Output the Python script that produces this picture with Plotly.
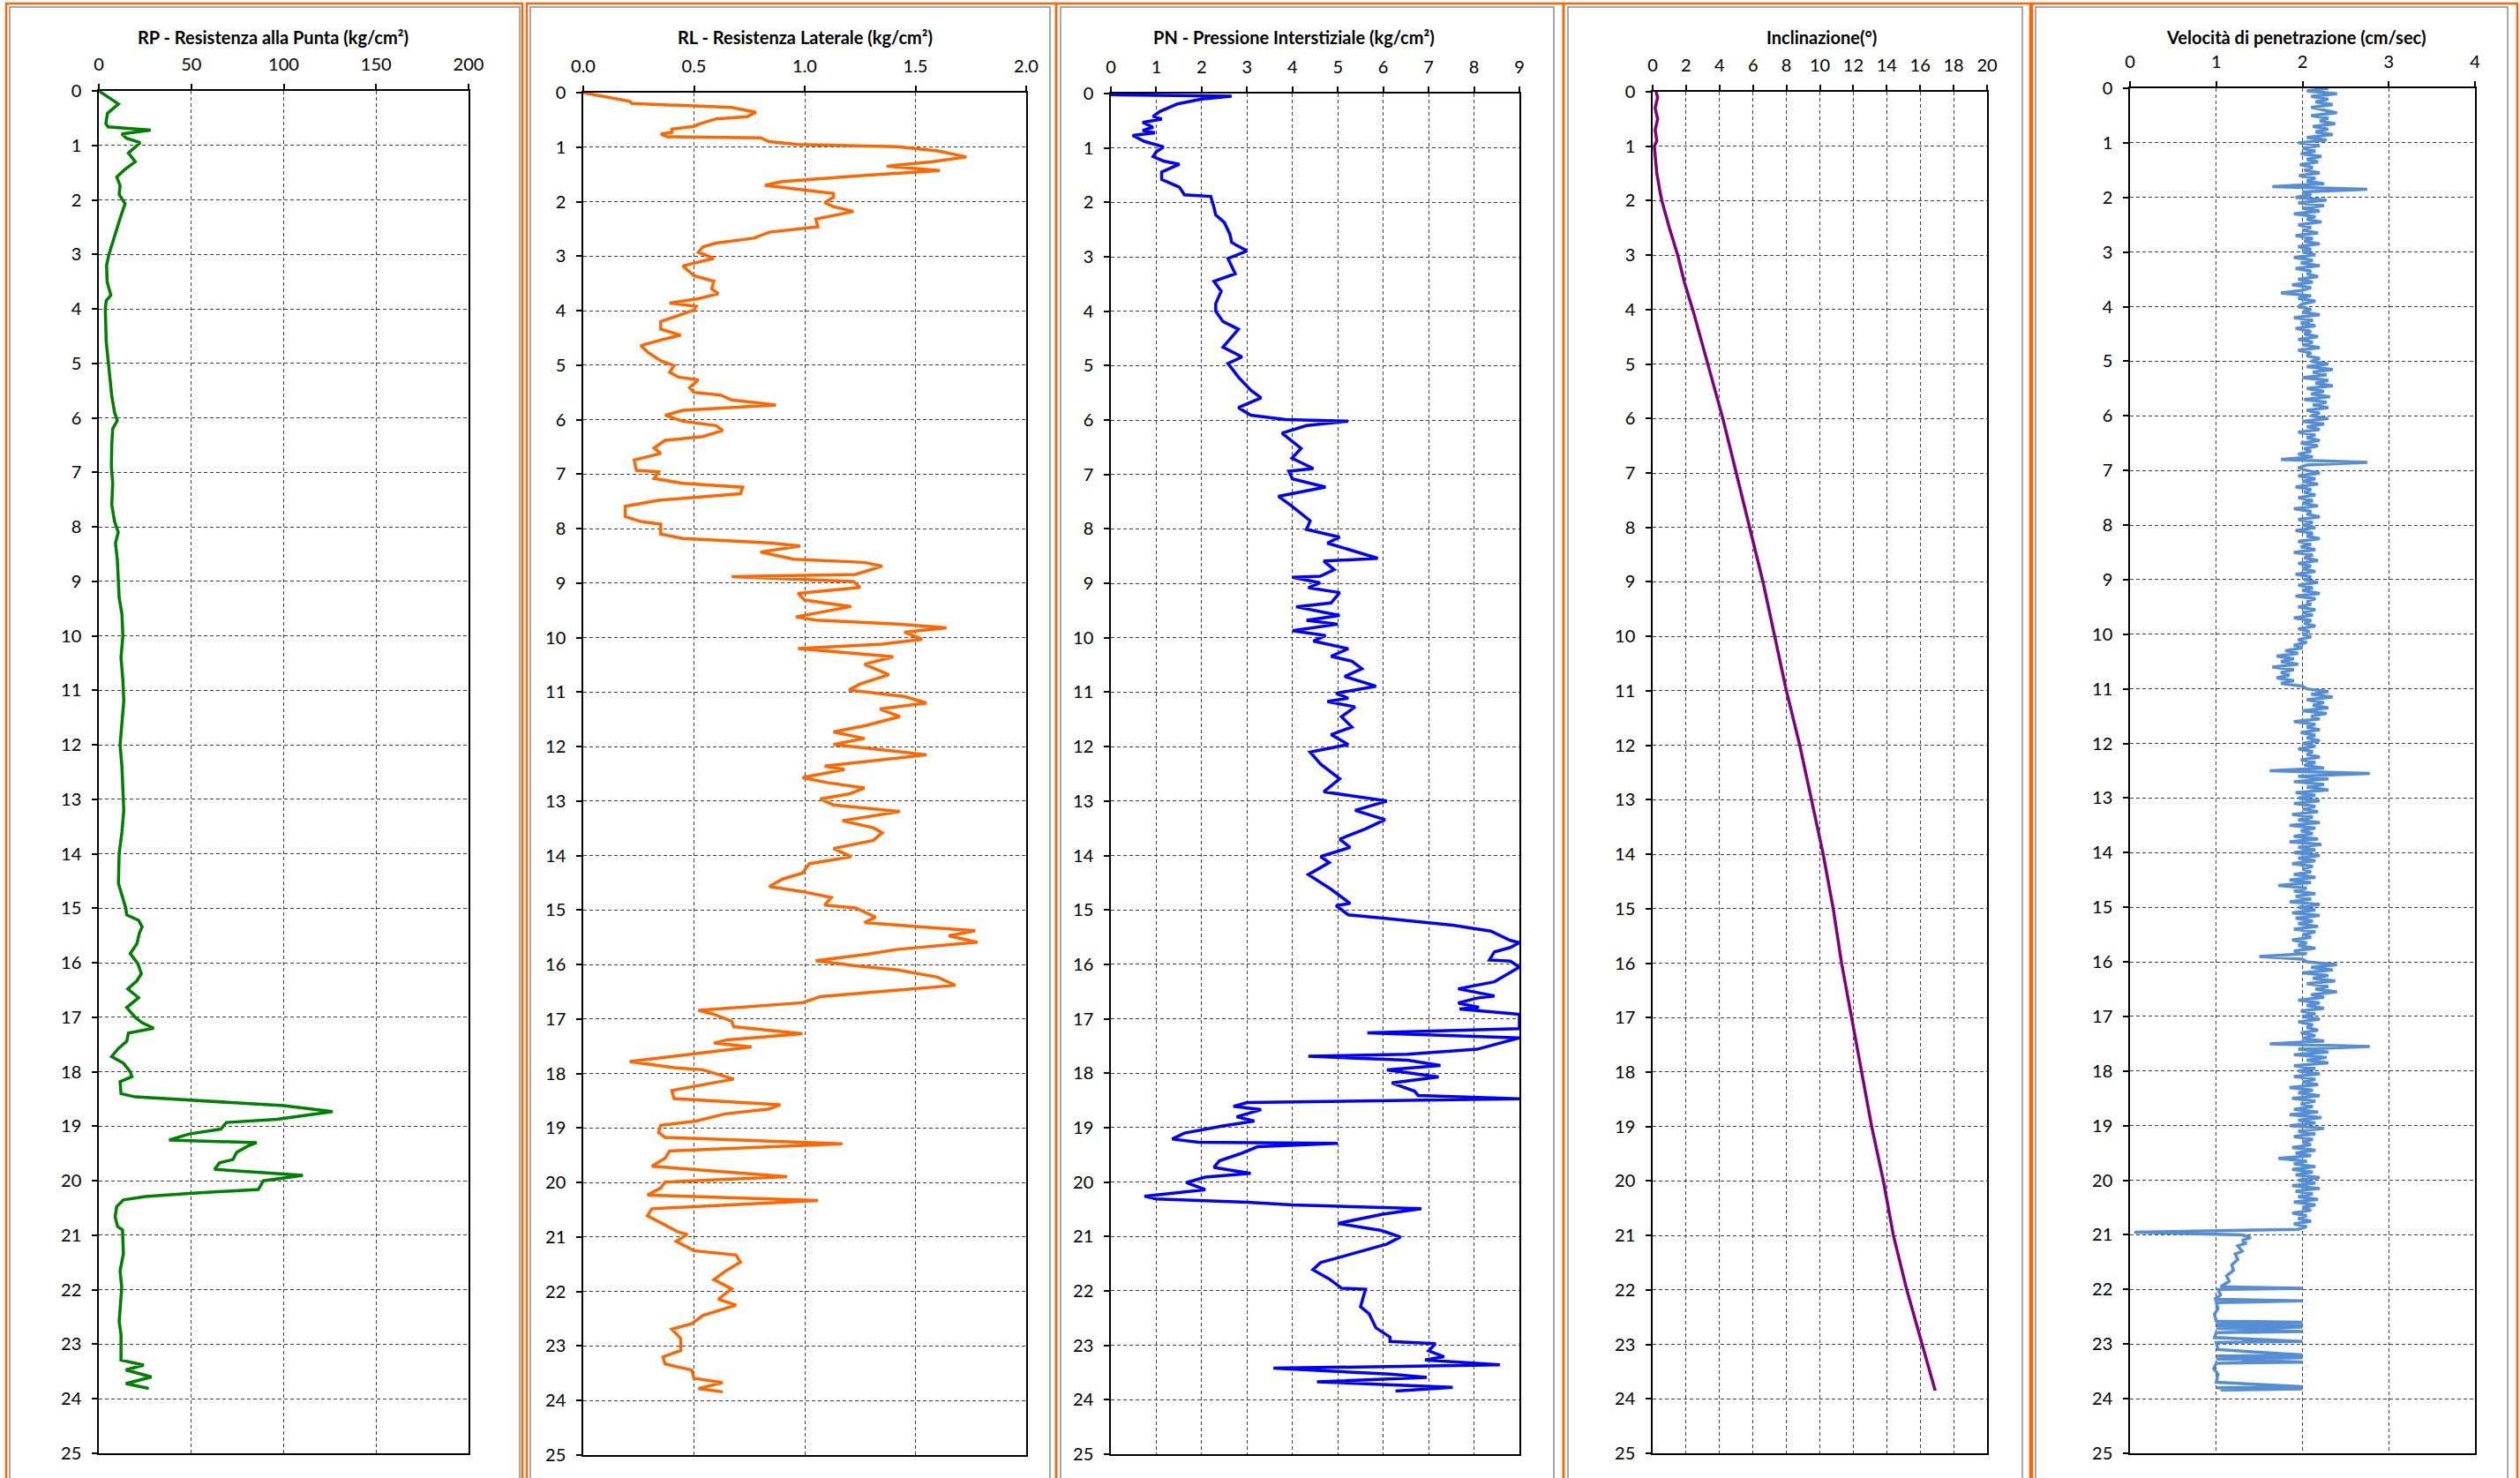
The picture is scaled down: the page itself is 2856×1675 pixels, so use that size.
import plotly.graph_objects as go

W, H = 2856, 1675

# ---------------- DATA ----------------
# RP - Resistenza alla Punta (kg/cm2)
rp_depth = [0, 0.24, 0.41, 0.6, 0.66, 0.72, 0.79, 0.87, 0.95, 1.14, 1.30, 1.44, 1.58, 1.74, 1.9, 2.07, 2.34,
            2.6, 2.8, 3.0, 3.2, 3.5, 3.75, 3.85, 4.0, 4.3, 4.6, 5.0, 5.3, 5.6, 5.9, 6.05, 6.2, 6.5, 6.9, 7.2,
            7.6, 7.9, 8.1, 8.3, 8.6, 9.0, 9.3, 9.6, 10.0, 10.4, 10.8, 11.2, 11.6, 12.0, 12.4, 12.8, 13.2, 13.6,
            14.0, 14.54, 15.0, 15.12, 15.22, 15.34, 15.46, 15.65, 15.83, 16.02, 16.2, 16.33, 16.48, 16.64,
            16.82, 17.0, 17.1, 17.2, 17.29, 17.44, 17.57, 17.72, 17.84, 18.0, 18.09, 18.18, 18.4, 18.46,
            18.52, 18.62, 18.73, 18.87, 18.93, 19.05, 19.14, 19.25, 19.3, 19.36, 19.48, 19.61, 19.67, 19.79,
            19.86, 19.9, 20.0, 20.16, 20.23, 20.29, 20.35, 20.47, 20.66, 20.84, 20.9, 21.34, 21.65, 21.96,
            22.58, 22.82, 23.29, 23.38, 23.47, 23.6, 23.72, 23.81]
rp_val = [0, 10.6, 4.7, 3.8, 5, 28, 12.4, 15, 22.4, 16, 19.7, 14.2, 9.7, 11.5, 11, 14.2, 11.5,
          9, 7, 5.5, 4.2, 4.5, 6.5, 4, 3.5, 3.8, 4, 5.2, 6, 7, 8.5, 10, 7.5, 7, 6.8, 7.5,
          7, 8.5, 10.5, 9, 10, 10.5, 11, 12.5, 13, 12, 13, 13.5, 12.5, 11.5, 12.5, 13, 13.5, 12.5,
          11, 10.6, 14.6, 15.1, 21.5, 23.4, 21.9, 20.6, 17, 21.2, 23, 20.6, 15.7, 21.5,
          15.1, 19.7, 23.4, 29.7, 16, 15.1, 10.6, 6.9, 13.3, 17, 17.9, 11.5, 12, 19.7,
          50, 100, 126.5, 96.4, 69, 66, 49, 38, 85.4, 80.8, 74.5, 72.6, 65.3, 62.6,
          92.7, 110.4, 89, 86.3, 49, 25.2, 13.3, 9.7, 8.8, 10.2, 12.8, 13.3, 11.5, 12.4,
          11, 12, 12, 24.3, 14.6, 28.5, 14.6, 27]

# RL - Resistenza Laterale (kg/cm2)
rl_depth = [0, 0.07, 0.16, 0.2, 0.27, 0.36, 0.44, 0.48, 0.58, 0.62, 0.67, 0.73, 0.76, 0.81, 0.83, 0.9, 0.95,
            0.99, 1.07, 1.18, 1.27, 1.35, 1.43, 1.53, 1.63, 1.7, 1.78, 1.85, 1.92, 2.02, 2.09, 2.18, 2.32,
            2.46, 2.56, 2.67, 2.76, 2.83, 2.93, 3.04, 3.18, 3.36, 3.46, 3.6, 3.69, 3.78, 3.86, 3.92, 3.99,
            4.11, 4.2, 4.34, 4.45, 4.54, 4.64, 4.76, 4.92, 5.01, 5.13, 5.22, 5.27, 5.41, 5.5, 5.55, 5.64,
            5.73, 5.83, 5.92, 6.03, 6.11, 6.2, 6.31, 6.38, 6.52, 6.62, 6.74, 6.93, 6.96, 7.08, 7.17, 7.24,
            7.36, 7.48, 7.59, 7.78, 7.87, 7.92, 8.1, 8.18, 8.26, 8.32, 8.43, 8.56, 8.62, 8.69, 8.84, 8.88,
            8.97, 9.08, 9.19, 9.31, 9.43, 9.54, 9.62, 9.68, 9.75, 9.82, 9.9, 10.03, 10.12, 10.2, 10.35,
            10.49, 10.68, 10.85, 10.96, 11.08, 11.2, 11.31, 11.45, 11.61, 11.73, 11.85, 11.96, 12.15,
            12.36, 12.42, 12.57, 12.66, 12.76, 12.87, 12.96, 13.07, 13.19, 13.36, 13.49, 13.58, 13.72,
            13.87, 14.02, 14.15, 14.32, 14.43, 14.57, 14.66, 14.77, 14.91, 14.96, 15.13, 15.23, 15.3,
            15.38, 15.47, 15.59, 15.72, 15.81, 15.93, 16.02, 16.1, 16.23, 16.38, 16.47, 16.59, 16.7,
            16.84, 16.91, 17.04, 17.14, 17.27, 17.38, 17.44, 17.51, 17.66, 17.78, 17.89, 17.93, 18.1,
            18.31, 18.46, 18.57, 18.65, 18.74, 18.87, 18.95, 19.08, 19.17, 19.29, 19.42, 19.55, 19.7,
            19.89, 19.99, 20.1, 20.23, 20.33, 20.48, 20.61, 20.78, 20.91, 20.95, 21.08, 21.25, 21.33,
            21.46, 21.63, 21.78, 21.95, 22.14, 22.25, 22.44, 22.59, 22.69, 22.86, 23.08, 23.2, 23.33,
            23.44, 23.59, 23.67, 23.78, 23.84]
rl_val = [0, 0.09, 0.21, 0.22, 0.67, 0.78, 0.74, 0.6, 0.52, 0.5, 0.4, 0.4, 0.35, 0.38, 0.80, 0.84, 0.97,
          1.42, 1.6, 1.73, 1.57, 1.37, 1.61, 1.23, 0.9, 0.82, 1.0, 1.13, 1.13, 1.09, 1.13, 1.22, 1.05,
          1.06, 0.84, 0.77, 0.6, 0.54, 0.52, 0.59, 0.45, 0.5, 0.59, 0.58, 0.61, 0.52, 0.39, 0.51, 0.5,
          0.42, 0.35, 0.35, 0.44, 0.35, 0.26, 0.29, 0.35, 0.41, 0.39, 0.43, 0.52, 0.48, 0.5, 0.62, 0.67,
          0.87, 0.45, 0.37, 0.45, 0.6, 0.63, 0.54, 0.37, 0.32, 0.35, 0.23, 0.24, 0.34, 0.32, 0.45, 0.72,
          0.71, 0.34, 0.19, 0.19, 0.26, 0.35, 0.35, 0.45, 0.84, 0.98, 0.8, 0.95, 1.27, 1.35, 1.23, 0.67,
          1.22, 1.25, 0.97, 1.0, 1.21, 1.07, 0.96, 1.05, 1.42, 1.64, 1.45, 1.53, 1.35, 0.97, 1.4,
          1.27, 1.38, 1.25, 1.2, 1.45, 1.55, 1.34, 1.43, 1.28, 1.13, 1.27, 1.13, 1.55,
          1.09, 1.18, 0.99, 1.1, 1.27, 1.2, 1.07, 1.13, 1.43, 1.17, 1.31, 1.35, 1.31,
          1.13, 1.21, 1.02, 0.99, 0.9, 0.84, 0.99, 1.12, 1.09, 1.23, 1.32, 1.27, 1.5,
          1.77, 1.65, 1.78, 1.42, 1.28, 1.05, 1.23, 1.42, 1.6, 1.68, 1.42, 1.07, 0.99,
          0.52, 0.59, 0.67, 0.68, 0.99, 0.65, 0.59, 0.76, 0.44, 0.21, 0.41, 0.54, 0.68,
          0.4, 0.41, 0.89, 0.84, 0.64, 0.51, 0.35, 0.34, 0.37, 1.17, 0.39, 0.37, 0.31,
          0.92, 0.37, 0.35, 0.29, 1.06, 0.31, 0.29, 0.37, 0.43, 0.47, 0.42, 0.5, 0.69,
          0.71, 0.64, 0.59, 0.67, 0.61, 0.69, 0.54, 0.49, 0.4, 0.44, 0.44, 0.36, 0.37,
          0.49, 0.5, 0.63, 0.52, 0.63]

# PN - Pressione Interstiziale (kg/cm2)
pn_depth = [0.0, 0.02, 0.05, 0.1, 0.19, 0.33, 0.42, 0.47, 0.53, 0.62, 0.68, 0.72, 0.77, 0.88, 0.98, 1.07,
            1.16, 1.24, 1.3, 1.44, 1.58, 1.72, 1.86, 1.89, 2.09, 2.23, 2.37, 2.58, 2.73, 2.79, 2.89, 3.03,
            3.31, 3.45, 3.63, 3.86, 4.0, 4.19, 4.33, 4.66, 4.84, 4.96, 5.21, 5.45, 5.59, 5.77, 5.91, 5.99,
            6.02, 6.1, 6.24, 6.52, 6.7, 6.89, 6.94, 7.08, 7.23, 7.4, 7.59, 7.85, 8.01, 8.15, 8.26, 8.38,
            8.47, 8.54, 8.59, 8.75, 8.87, 8.89, 8.99, 9.08, 9.17, 9.36, 9.43, 9.59, 9.68, 9.75, 9.87, 9.96,
            10.06, 10.2, 10.34, 10.43, 10.57, 10.71, 10.89, 11.02, 11.11, 11.17, 11.27, 11.45, 11.64, 11.78,
            11.96, 12.1, 12.32, 12.59, 12.83, 13.0, 13.17, 13.34, 13.51, 13.7, 13.85, 14.02, 14.13, 14.35,
            14.62, 14.88, 14.92, 15.09, 15.15, 15.23, 15.28, 15.39, 15.56, 15.6, 15.69, 15.77, 15.92, 15.94,
            16.05, 16.32, 16.45, 16.58, 16.62, 16.71, 16.79, 16.82, 16.88, 16.92, 17.18, 17.26, 17.35,
            17.56, 17.65, 17.69, 17.76, 17.86, 17.94, 18.07, 18.18, 18.33, 18.41, 18.47, 18.54, 18.61,
            18.67, 18.8, 18.88, 18.97, 19.1, 19.21, 19.27, 19.29, 19.35, 19.48, 19.61, 19.73, 19.78,
            19.84, 19.91, 20.01, 20.14, 20.26, 20.31, 20.37, 20.42, 20.49, 20.59, 20.76, 20.89, 21.01,
            21.14, 21.25, 21.4, 21.48, 21.61, 21.78, 21.95, 21.97, 22.29, 22.42, 22.68, 22.85, 22.93,
            22.97, 23.1, 23.21, 23.27, 23.36, 23.42, 23.53, 23.59, 23.67, 23.77, 23.84]
pn_val = [0.0, 0.0, 2.66, 2.0, 1.47, 1.08, 0.93, 1.12, 0.7, 0.93, 0.7, 0.97, 0.48, 0.74, 1.16, 1.0,
          0.93, 1.16, 1.51, 1.12, 1.12, 1.51, 1.62, 2.2, 2.27, 2.31, 2.5, 2.62, 2.66, 2.77, 3.0, 2.58,
          2.74, 2.27, 2.43, 2.31, 2.31, 2.47, 2.81, 2.47, 2.89, 2.58, 2.81, 3.08, 3.31, 2.81, 3.08, 3.85,
          5.23, 4.31, 3.77, 4.19, 3.99, 4.46, 3.92, 4.0, 4.73, 3.69, 4.0, 4.39, 4.31, 5.04, 4.77, 5.23,
          5.58, 5.88, 4.69, 4.92, 4.61, 4.0, 4.61, 4.35, 5.04, 4.85, 4.08, 5.04, 4.31, 5.0, 4.0, 4.73,
          4.46, 5.23, 4.85, 5.31, 5.53, 5.15, 5.84, 4.96, 5.23, 4.77, 5.38, 5.08, 5.31, 4.85,
          5.23, 4.39, 4.62, 5.04, 4.69, 6.08, 5.38, 6.04, 5.61, 5.04, 5.27, 4.62, 4.81, 4.35,
          4.85, 5.27, 4.96, 5.23, 5.99, 6.99, 7.53, 8.37, 8.8, 9.0, 8.8, 8.45, 8.34, 8.8,
          9.0, 8.45, 7.65, 8.45, 8.07, 7.65, 8.11, 7.68, 8.45, 9.0, 9.0, 5.65, 9.0,
          8.07, 6.54, 4.35, 6.54, 7.26, 6.08, 7.22, 6.19, 6.69, 6.77, 9.0, 3.0, 2.7,
          3.31, 2.77, 3.16, 2.47, 1.62, 1.35, 1.93, 5.0, 3.23, 2.85, 2.39, 2.27, 2.62,
          3.08, 2.08, 1.66, 2.08, 0.74, 1.0, 3.0, 4.0, 6.84, 5.99, 5.0, 5.96, 6.38,
          6.08, 5.61, 5.0, 4.62, 4.45, 4.81, 5.08, 5.61, 5.5, 5.69, 5.84, 6.15, 6.15,
          7.15, 7.0, 7.34, 6.92, 8.57, 3.58, 6.15, 6.96, 4.54, 7.53, 6.27]

# Inclinazione (deg)
inc_depth = [0, 0.1, 0.3, 0.5, 0.7, 0.9, 1.0, 1.5, 1.85, 2.0, 2.5, 3.0, 3.5, 4, 5, 6, 7, 8, 9, 10, 11,
             12, 13, 14, 15, 16, 17, 18, 19, 20, 21, 22, 23, 23.85]
inc_val = [0.2, 0.3, 0.15, 0.3, 0.15, 0.25, 0.1, 0.25, 0.45, 0.55, 1.0, 1.5, 1.9, 2.4, 3.3, 4.2, 5.0, 5.8,
           6.6, 7.3, 8.0, 8.8, 9.5, 10.2, 10.8, 11.3, 11.9, 12.5, 13.1, 13.8, 14.4, 15.2, 16.1, 16.9]

# Velocita di penetrazione (cm/sec): readings every 0.05 m from 0 to 20.95 m
vel_step = 0.05
vel_main = [
    2.3, 2.05, 2.4, 2.1, 2.3, 2.15, 2.35, 2.1, 2.25, 2.4, 2.1, 2.3, 2.2, 2.38, 2.12, 2.3, 2.15, 2.35, 2.05, 2.28,
    1.95, 2.2, 2.0, 2.15, 1.98, 2.22, 2.05, 2.18, 1.97, 2.12, 2.02, 2.2, 1.96, 2.15, 2.05, 2.25, 1.65, 2.75, 2.0, 2.1,
    1.92, 2.28, 1.95, 2.25, 2.0, 2.2, 1.9, 2.15, 2.05, 2.22, 1.95, 2.1, 2.0, 2.18, 1.92, 2.12, 2.02, 2.2, 1.95, 2.1,
    2.0, 2.15, 1.9, 2.12, 1.98, 2.2, 1.92, 2.1, 2.05, 2.18, 1.95, 2.12, 1.88, 2.1, 2.0, 1.75, 2.1, 1.95, 2.15, 2.0,
    1.95, 2.1, 2.0, 2.2, 1.9, 2.12, 1.98, 2.15, 1.92, 2.1, 2.02, 2.18, 1.95, 2.12, 2.0, 2.2, 1.95, 2.1, 2.05, 2.2,
    2.1, 2.3, 2.05, 2.35, 2.12, 2.28, 2.0, 2.3, 2.15, 2.35, 2.05, 2.25, 2.1, 2.32, 2.02, 2.28, 2.12, 2.3, 2.05, 2.2,
    2.1, 2.3, 2.0, 2.25, 2.05, 2.2, 1.95, 2.15, 2.05, 2.2, 1.98, 2.18, 2.02, 2.1, 1.95, 2.12, 1.75, 2.75, 2.05, 1.95,
    2.05, 2.2, 1.95, 2.15, 2.0, 2.18, 1.92, 2.1, 2.02, 2.15, 1.95, 2.12, 2.0, 2.18, 1.9, 2.1, 2.05, 2.2, 1.95, 2.12,
    2.0, 2.15, 1.92, 2.12, 2.05, 2.2, 1.95, 2.1, 1.98, 2.15, 1.9, 2.12, 2.02, 2.18, 1.95, 2.1, 2.0, 2.15, 1.92, 2.1,
    2.02, 2.18, 1.95, 2.12, 2.0, 2.2, 1.92, 2.15, 2.05, 2.1, 1.95, 2.15, 2.0, 2.12, 1.9, 2.1, 2.02, 2.15, 1.95, 2.08,
    2.0, 2.1, 1.95, 2.05, 1.9, 2.0, 1.8, 1.95, 1.7, 1.9, 1.75, 1.95, 1.65, 1.9, 1.75, 1.85, 1.7, 1.9, 1.75, 2.0,
    2.05, 2.3, 2.1, 2.35, 2.05, 2.25, 2.12, 2.3, 2.0, 2.28, 2.1, 2.2, 1.9, 2.15, 2.05, 2.2, 1.98, 2.15, 2.05, 2.2,
    2.0, 2.15, 1.95, 2.12, 2.05, 2.2, 1.98, 2.15, 2.02, 2.25, 1.62, 2.78, 1.95, 2.3, 1.9, 2.25, 2.05, 2.3, 1.92, 2.15,
    1.95, 2.2, 1.9, 2.15, 2.0, 2.18, 1.88, 2.12, 1.95, 2.2, 1.85, 2.15, 1.98, 2.12, 1.9, 2.18, 1.85, 2.22, 1.95, 2.15,
    1.9, 2.2, 1.95, 2.15, 1.88, 2.12, 2.0, 2.1, 1.9, 2.15, 1.85, 2.1, 1.72, 2.05, 1.9, 2.15, 1.92, 2.1, 1.85, 2.2,
    1.95, 2.15, 1.88, 2.2, 1.92, 2.12, 1.95, 2.18, 1.9, 2.15, 2.0, 2.1, 1.88, 2.05, 1.95, 2.15, 1.9, 2.05, 1.5, 2.0,
    2.05, 2.4, 2.1, 2.35, 2.0, 2.3, 2.12, 2.38, 2.05, 2.3, 2.15, 2.4, 2.1, 2.25, 1.95, 2.2, 2.05, 2.25, 1.98, 2.15,
    2.0, 2.2, 1.95, 2.12, 2.05, 2.18, 1.98, 2.15, 2.0, 2.25, 1.62, 2.78, 1.95, 2.3, 1.9, 2.28, 2.05, 2.3, 1.9, 2.15,
    1.95, 2.2, 1.9, 2.15, 2.0, 2.18, 1.85, 2.12, 1.95, 2.2, 1.88, 2.15, 1.98, 2.12, 1.9, 2.18, 1.85, 2.22, 1.95, 2.15,
    1.85, 2.25, 1.95, 2.15, 1.9, 2.12, 2.0, 2.1, 1.88, 2.15, 1.92, 2.1, 1.72, 2.05, 1.9, 2.15, 1.88, 2.12, 1.92, 2.2,
    1.95, 2.15, 1.88, 2.2, 1.92, 2.12, 1.95, 2.18, 1.9, 2.15, 2.0, 2.1, 1.88, 2.05, 1.95, 2.1, 1.9, 2.05, 1.95, 0.05,
]
vel_tail_depth = [21.0, 21.05, 21.1, 21.15, 21.2, 21.3, 21.35, 21.45, 21.55, 21.65, 21.75, 21.85, 21.95, 21.98,
                  22.0, 22.1, 22.18, 22.21, 22.24, 22.35, 22.45, 22.58, 22.6, 22.62, 22.64, 22.66, 22.69, 22.71,
                  22.77, 22.79, 22.88, 22.95, 22.97, 23.1, 23.2, 23.22, 23.25, 23.27, 23.33, 23.35, 23.45, 23.55,
                  23.7, 23.78, 23.8, 23.82, 23.84]
vel_tail_val = [1.3, 1.4, 1.3, 1.35, 1.25, 1.3, 1.22, 1.25, 1.18, 1.2, 1.12, 1.15, 1.05, 2.0,
                1.02, 1.05, 0.98, 2.0, 1.0, 1.02, 0.98, 1.0, 2.0, 1.0, 2.0, 1.0, 2.0, 1.0,
                2.0, 1.0, 0.98, 2.0, 1.0, 1.02, 2.0, 1.0, 2.0, 1.0, 2.0, 1.0, 0.97, 1.02,
                1.0, 2.0, 1.0, 2.0, 1.05]

vel_depth = [round(i * vel_step, 2) for i in range(len(vel_main))] + vel_tail_depth
vel_val = vel_main + vel_tail_val

titles = ["RP - Resistenza alla Punta (kg/cm²)", "RL - Resistenza Laterale (kg/cm²)",
          "PN - Pressione Interstiziale (kg/cm²)", "Inclinazione(°)", "Velocità di penetrazione (cm/sec)"]

# ---------------- LAYOUT ----------------
FONT = "Lato"
# plot areas in pixels: x0, x1, ytop, ybottom
areas = [(112, 531, 103, 1647), (661, 1163, 105, 1649), (1259, 1722, 106, 1648),
         (1873, 2252, 104, 1647), (2414, 2805, 100, 1647)]
title_cx = [309, 913, 1467, 2064, 2602]
xranges = [(0, 200, 50), (0, 2, 0.5), (0, 9, 1), (0, 20, 2), (0, 4, 1)]
xfmt = ["d", ".1f", "d", "d", "d"]
series = [(rp_depth, rp_val, "#008000", 3.5), (rl_depth, rl_val, "#FF6600", 3.5),
          (pn_depth, pn_val, "#0000FF", 3.5), (inc_depth, inc_val, "#800080", 3.5),
          (vel_depth, vel_val, "#558ED5", 3.5)]

fig = go.Figure()
layout = dict(width=W, height=H, margin=dict(l=0, r=0, t=0, b=0, pad=0, autoexpand=False),
              paper_bgcolor="white", plot_bgcolor="white", showlegend=False,
              font=dict(family=FONT, color="black"))

annotations = []
for i, ((x0, x1, yt, yb), (xmin, xmax, dx), fmt, (dep, val, col, lw)) in enumerate(zip(areas, xranges, xfmt, series)):
    n = "" if i == 0 else str(i + 1)
    fig.add_trace(go.Scatter(x=val, y=dep, mode="lines", line=dict(color=col, width=lw),
                             xaxis="x" + n, yaxis="y" + n, hoverinfo="skip"))
    layout["xaxis" + n] = dict(domain=[x0 / W, x1 / W], anchor="y" + n, side="top",
                               range=[xmin, xmax], dtick=dx, tick0=0, tickformat=fmt,
                               showgrid=True, gridcolor="#404040", griddash="4px,3px", gridwidth=1,
                               showline=True, linecolor="black", linewidth=1.5, mirror=True,
                               ticks="outside", ticklen=6, tickcolor="black", tickwidth=1.5,
                               ticklabelstandoff=7, automargin=False,
                               tickfont=dict(family=FONT, size=20, color="black"), zeroline=False,
                               fixedrange=True)
    layout["yaxis" + n] = dict(domain=[1 - yb / H, 1 - yt / H], anchor="x" + n,
                               range=[25, 0], dtick=1, tick0=0,
                               showgrid=True, gridcolor="#404040", griddash="4px,3px", gridwidth=1,
                               showline=True, linecolor="black", linewidth=1.5, mirror=True,
                               ticks="outside", ticklen=6, tickcolor="black", tickwidth=1.5,
                               ticklabelstandoff=8, automargin=False,
                               tickfont=dict(family=FONT, size=20, color="black"), zeroline=False,
                               fixedrange=True)
    annotations.append(dict(text="<b>" + titles[i] + "</b>", x=title_cx[i] / W, y=1 - 42 / H,
                            xref="paper", yref="paper", xanchor="center", yanchor="middle",
                            showarrow=False, font=dict(family=FONT, size=20, color="black")))

# panel frames: orange outer, gray inner (they run past the bottom edge of the page)
orange_frames = [(7, 592), (597, 1197), (1197, 1772), (1772, 2301), (2303, 2853)]
gray_frames = [(11, 589), (601, 1190), (1202, 1761), (1777, 2292), (2307, 2842)]
shapes = []
for (a, b) in orange_frames:
    shapes.append(dict(type="rect", xref="paper", yref="paper", x0=a / W, x1=b / W,
                       y0=1 - 1690 / H, y1=1 - 4 / H, line=dict(color="#FF6600", width=2.5),
                       fillcolor="rgba(0,0,0,0)", layer="below"))
for (a, b) in gray_frames:
    shapes.append(dict(type="rect", xref="paper", yref="paper", x0=a / W, x1=b / W,
                       y0=1 - 1690 / H, y1=1 - 8 / H, line=dict(color="#8C8C8C", width=1.5),
                       fillcolor="rgba(0,0,0,0)", layer="below"))

layout["annotations"] = annotations
layout["shapes"] = shapes
fig.update_layout(**layout)
fig.write_html("out.html", config={"displayModeBar": False},
               post_script="document.body.style.margin='0px';document.body.style.overflow='hidden';")
